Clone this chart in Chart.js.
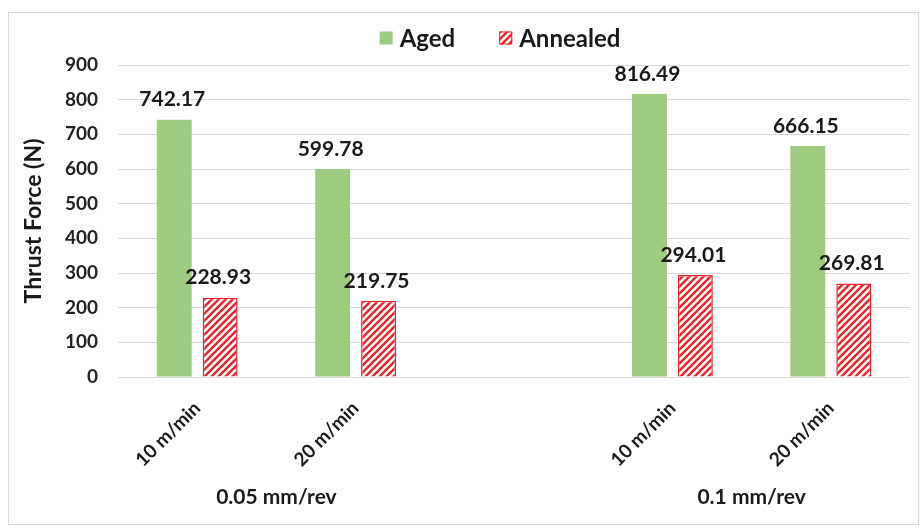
<!DOCTYPE html>
<html>
<head>
<meta charset="utf-8">
<script src="https://cdn.jsdelivr.net/npm/chart.js@4.4.1/dist/chart.umd.min.js"></script>
<style>
  html, body { margin: 0; padding: 0; background: #fff; }
  #wrap { width: 920px; height: 528px; position: relative; }
  canvas { display: block; }
</style>
</head>
<body>
<div id="wrap"><canvas id="chart" width="920" height="528"></canvas></div>
<script>
// Cutting speeds on the x axis; the blank slot separates the two feed-rate groups
const speeds = ['10 m/min', '20 m/min', '', '10 m/min', '20 m/min'];
const feedGroups = ['0.05 mm/rev', '0.1 mm/rev'];
const feedGroupSlots = [[0, 1], [3, 4]];

// Thrust force (N)
const aged = [742.17, 599.78, null, 816.49, 666.15];
const annealed = [228.93, 219.75, null, 294.01, 269.81];

const seriesNames = ['Aged', 'Annealed'];
const yMin = 0, yMax = 900, yStep = 100;

const FONT = 'Lato, "Open Sans", sans-serif';
const INK = '#1a1a1a';
const GREEN = '#9dcb80';
const RED = '#e6262d';

const canvas = document.getElementById('chart');
const ctx = canvas.getContext('2d');

// Diagonal red hatch on white for the annealed bars
function makeHatch() {
  const s = 7;
  const t = document.createElement('canvas');
  t.width = s; t.height = s;
  const g = t.getContext('2d');
  g.fillStyle = '#ffffff';
  g.fillRect(0, 0, s, s);
  g.strokeStyle = RED;
  g.lineWidth = 2.4;
  g.beginPath();
  g.moveTo(-1, s + 1); g.lineTo(s + 1, -1);
  g.moveTo(-s / 2 - 1, s / 2 + 1); g.lineTo(s / 2 + 1, -s / 2 - 1);
  g.moveTo(s / 2 - 1, s * 1.5 + 1); g.lineTo(s * 1.5 + 1, s / 2 - 1);
  g.stroke();
  return ctx.createPattern(t, 'repeat');
}
const hatch = makeHatch();

// Light frame around the whole figure
const framePlugin = {
  id: 'frame',
  beforeDraw(chart) {
    const c = chart.ctx;
    c.save();
    c.fillStyle = '#ffffff';
    c.fillRect(0, 0, chart.width, chart.height);
    c.strokeStyle = '#d9d9d9';
    c.lineWidth = 1;
    c.strokeRect(8.5, 12.5, 910, 512);
    c.restore();
  }
};

// Value printed above each bar
const valueLabelPlugin = {
  id: 'valueLabels',
  afterDatasetsDraw(chart) {
    const c = chart.ctx;
    c.save();
    c.font = 'bold 21px ' + FONT;
    c.fillStyle = INK;
    c.textAlign = 'center';
    c.textBaseline = 'middle';
    chart.data.datasets.forEach((ds, i) => {
      chart.getDatasetMeta(i).data.forEach((bar, j) => {
        const v = ds.data[j];
        if (v == null) return;
        c.fillText(v.toFixed(2), bar.x - 2, bar.y - 20);
      });
    });
    c.restore();
  }
};

// Feed-rate captions centred under each pair of speeds
const groupLabelPlugin = {
  id: 'groupLabels',
  afterDraw(chart) {
    const c = chart.ctx;
    const x = chart.scales.x;
    c.save();
    c.font = 'bold 21px ' + FONT;
    c.fillStyle = INK;
    c.textAlign = 'center';
    c.textBaseline = 'middle';
    feedGroups.forEach((label, k) => {
      const [a, b] = feedGroupSlots[k];
      const cx = (x.getPixelForValue(a) + x.getPixelForValue(b)) / 2;
      c.fillText(label, cx, 497);
    });
    c.restore();
  }
};

// Legend row at the top
const legendPlugin = {
  id: 'topLegend',
  afterDraw(chart) {
    const c = chart.ctx;
    c.save();
    c.font = 'bold 24px ' + FONT;
    c.textBaseline = 'middle';
    c.textAlign = 'left';
    const box = 13, gap = 7, itemGap = 44, y = 38;
    const widths = chart.data.datasets.map(ds => box + gap + c.measureText(ds.label).width);
    const total = widths.reduce((a, b) => a + b, 0) + itemGap * (widths.length - 1);
    let x = (chart.chartArea.left + chart.chartArea.right) / 2 - total / 2 - 14;
    chart.data.datasets.forEach((ds, i) => {
      c.fillStyle = ds.backgroundColor;
      c.fillRect(x, y - box / 2, box, box);
      if (ds.borderWidth) {
        c.strokeStyle = ds.borderColor;
        c.lineWidth = 1;
        c.strokeRect(x + 0.5, y - box / 2 + 0.5, box - 1, box - 1);
      }
      c.fillStyle = INK;
      c.fillText(ds.label, x + box + gap, y + 1);
      x += widths[i] + itemGap;
    });
    c.restore();
  }
};

new Chart(canvas, {
  type: 'bar',
  data: {
    labels: speeds,
    datasets: [
      {
        label: seriesNames[0],
        data: aged,
        backgroundColor: GREEN,
        borderWidth: 0
      },
      {
        label: seriesNames[1],
        data: annealed,
        backgroundColor: hatch,
        borderColor: RED,
        borderWidth: 1.5
      }
    ]
  },
  options: {
    responsive: false,
    animation: false,
    devicePixelRatio: 1,
    layout: { padding: { left: 0, top: 65, right: 10, bottom: 0 } },
    datasets: {
      bar: { categoryPercentage: 0.58, barPercentage: 0.76 }
    },
    plugins: {
      legend: { display: false },
      tooltip: { enabled: false }
    },
    scales: {
      x: {
        grid: { display: false, drawTicks: false },
        border: { display: false },
        ticks: {
          autoSkip: false,
          minRotation: 45,
          maxRotation: 45,
          padding: 20,
          color: INK,
          font: { family: FONT, size: 19, weight: 'bold' }
        },
        afterFit(scale) { scale.height = 151; }
      },
      y: {
        min: yMin,
        max: yMax,
        grid: { color: '#d9d9d9', lineWidth: 1, drawTicks: false },
        border: { display: false },
        ticks: {
          stepSize: yStep,
          padding: 20,
          color: '#222222',
          font: { family: FONT, size: 19, weight: 'bold' }
        },
        title: {
          display: true,
          text: 'Thrust Force (N)',
          color: INK,
          font: { family: FONT, size: 23, weight: 'bold' },
          padding: { top: 20, bottom: 0 }
        },
        afterFit(scale) { scale.width = 118; }
      }
    }
  },
  plugins: [framePlugin, valueLabelPlugin, groupLabelPlugin, legendPlugin]
});
</script>
</body>
</html>
